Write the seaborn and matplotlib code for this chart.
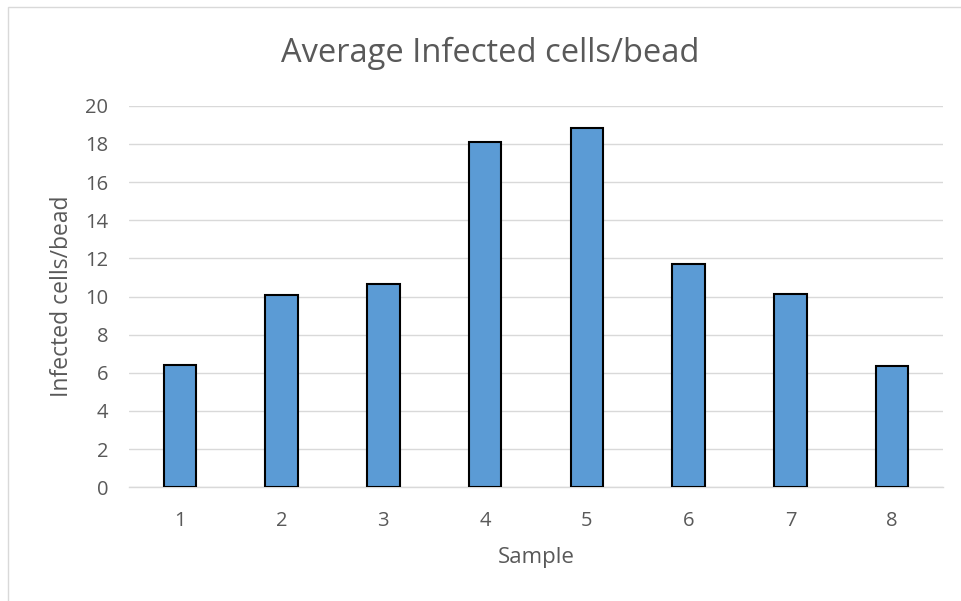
import matplotlib
matplotlib.use("Agg")
import matplotlib.pyplot as plt
import seaborn as sns
import pandas as pd
from matplotlib.patches import Rectangle

samples = ["1", "2", "3", "4", "5", "6", "7", "8"]
values = [6.43, 10.08, 10.67, 18.08, 18.85, 11.70, 10.11, 6.36]
title = "Average Infected cells/bead"
xlabel = "Sample"
ylabel = "Infected cells/bead"
yticks = [0, 2, 4, 6, 8, 10, 12, 14, 16, 18, 20]

sns.set_theme(style="white")
plt.rcParams['font.family'] = ['Open Sans', 'DejaVu Sans']

df = pd.DataFrame({"Sample": samples, "Value": values})

fig = plt.figure(figsize=(9.61, 6.01), dpi=100)
ax = fig.add_axes([129/961, 1-487.3/601, (943-129)/961, (487.3-105.7)/601])

sns.barplot(data=df, x="Sample", y="Value", ax=ax, color="#5B9BD5",
            saturation=1, width=0.32, edgecolor="black", linewidth=1.5, zorder=3)

ax.set_ylim(0, 20)
ax.set_yticks(yticks)
ax.set_yticklabels([str(t) for t in yticks])
ax.yaxis.grid(True, color="#D9D9D9", linewidth=1.0, zorder=0)
ax.set_axisbelow(True)
for s in ["top", "right", "left"]:
    ax.spines[s].set_visible(False)
ax.spines["bottom"].set_color("#D9D9D9")
ax.spines["bottom"].set_linewidth(1.0)
ax.tick_params(axis="y", length=0, labelsize=14.5, labelcolor="#595959", pad=15)
ax.tick_params(axis="x", length=0, labelsize=14.5, labelcolor="#595959", pad=17)
ax.set_xlabel(xlabel, fontsize=16, color="#595959", va="center", ha="center")
ax.set_ylabel(ylabel, fontsize=16.5, color="#595959", va="center", ha="center")
ax.xaxis.set_label_coords(0.5, (487.3-557)/381.6)
ax.yaxis.set_label_coords((62-129)/814, 0.5)
fig.text(490/961, 1-53/601, title, ha="center", va="center", fontsize=23.5, color="#595959")

fig.patches.append(Rectangle((8/961, -0.1), 1.2, 1-7/601+0.1, transform=fig.transFigure,
                             fill=False, edgecolor="#D9D9D9", linewidth=1.0))

fig.savefig("out.png", dpi=100)
